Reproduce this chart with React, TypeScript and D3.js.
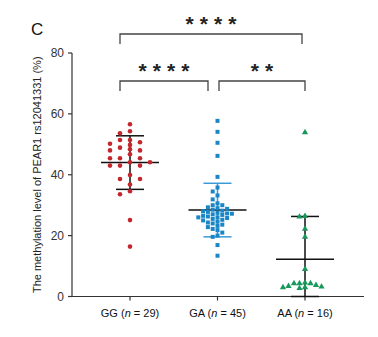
import React from "react";
import * as d3 from "d3";

const groups = ["GG", "GA", "AA"];
const groupN = [29, 45, 16];
const yTicks = [0, 20, 40, 60, 80];

const ggValues = [56.6, 54.3, 53.6, 51.4, 51.4, 50.7, 50.2, 49.8, 48.9, 48.4, 48.0, 48.0, 46.7, 45.4, 45.4, 45.4, 44.1, 44.1, 43.0, 43.0, 43.0, 39.9, 38.6, 38.6, 36.8, 34.6, 33.6, 25.1, 16.4];
const gaValues = [57.7, 54.1, 50.5, 46.2, 39.3, 35.8, 34.5, 33.2, 31.9, 30.6, 30.0, 30.0, 29.3, 29.0, 28.8, 28.5, 28.2, 28.0, 27.8, 27.5, 27.3, 27.2, 27.0, 26.8, 26.5, 26.3, 26.0, 26.0, 25.8, 25.5, 25.2, 25.0, 24.6, 24.3, 24.0, 23.6, 23.2, 22.8, 22.2, 21.8, 21.0, 20.0, 19.6, 16.9, 13.4];
const aaValues = [53.9, 26.4, 26.2, 22.2, 19.6, 9.0, 4.5, 4.3, 4.3, 4.3, 3.7, 3.4, 3.2, 3.0, 3.0, 2.7];

const means = [44.0, 28.4, 12.2];
const sds = [8.8, 8.8, 14.1];

const comparisons = [
  { from: "GG", to: "AA", stars: 4, level: 0 },
  { from: "GG", to: "GA", stars: 4, level: 1 },
  { from: "GA", to: "AA", stars: 2, level: 1 },
];

function swarm(values: number[], y: (v: number) => number, step: number, h: number) {
  const items = values.map((v, i) => ({ v, i, py: y(v) })).sort((a, b) => a.py - b.py);
  const placed: { off: number; py: number }[] = [];
  const out: number[] = new Array(values.length).fill(0);
  for (const it of items) {
    for (let k = 0; k < 60; k++) {
      const m = Math.ceil(k / 2);
      const off = k === 0 ? 0 : (k % 2 === 1 ? -m : m) * step;
      const hit = placed.some((p) => Math.abs(p.off - off) < step * 0.5 && Math.abs(p.py - it.py) < h);
      if (!hit) {
        placed.push({ off, py: it.py });
        out[it.i] = off;
        break;
      }
    }
  }
  return out;
}

export default function App() {
  const W = 378;
  const H = 337;
  const y = d3.scaleLinear().domain([0, 80]).range([296.5, 53]);
  const x = d3.scalePoint<string>().domain(groups).range([130, 305]);
  const axisX0 = 72;
  const axisX1 = 364;
  const font = "Liberation Sans, Arial, sans-serif";

  const ggOff = swarm(ggValues, y, 10, 4.2);
  const gaOff = swarm(gaValues, y, 4.8, 4.0);
  const aaOff = swarm(aaValues, y, 5.5, 4.5);

  const red = "#c4262e";
  const blue = "#1b86c6";
  const blueBar = "#3a9ad8";
  const green = "#17995b";

  const triPath = d3.symbol().type(d3.symbolTriangle).size(17)() as string;

  const bracketY = [34, 81];

  return (
    <svg width={W} height={H} style={{ position: "absolute", left: 0, top: 0, background: "#fff" }} fontFamily={font}>
      <rect x={0} y={0} width={W} height={H} fill="#fff" />
      <text x={31} y={34.5} fontSize={17} fill="#111">C</text>

      {/* y axis */}
      <line x1={axisX0} x2={axisX0} y1={y(80)} y2={y(0)} stroke="#333" strokeWidth={1.2} />
      {yTicks.map((t) => (
        <g key={t}>
          <line x1={axisX0 - 4} x2={axisX0} y1={y(t)} y2={y(t)} stroke="#333" strokeWidth={1.2} />
          <text x={axisX0 - 8} y={y(t) + 4.3} fontSize={12} textAnchor="end" fill="#333">{t}</text>
        </g>
      ))}
      <text transform={`translate(41,${(y(80) + y(0)) / 2}) rotate(-90)`} fontSize={11} textAnchor="middle" fill="#222">
        The methylation level of PEAR1 rs12041331 (%)
      </text>

      {/* x axis */}
      <line x1={axisX0} x2={axisX1} y1={y(0)} y2={y(0)} stroke="#333" strokeWidth={1.2} />
      {groups.map((g, i) => (
        <g key={g}>
          <line x1={x(g)} x2={x(g)} y1={y(0)} y2={y(0) + 4} stroke="#333" strokeWidth={1.2} />
          <text x={x(g)} y={317} fontSize={11} textAnchor="middle" fill="#111">
            {g} (<tspan fontStyle="italic">n</tspan> = {groupN[i]})
          </text>
        </g>
      ))}

      {/* brackets */}
      {comparisons.map((c, i) => {
        const by = bracketY[c.level];
        let x1: number, x2: number;
        if (c.level === 0) {
          x1 = (x(c.from) as number) - 10;
          x2 = (x(c.to) as number) - 3;
        } else if (c.from === "GG") {
          x1 = (x("GG") as number) - 10;
          x2 = (x("GA") as number) - 9.5;
        } else {
          x1 = (x("GA") as number) + 1.5;
          x2 = x("AA") as number;
        }
        const cx = (x1 + x2) / 2;
        const sy = by - 16;
        return (
          <g key={i}>
            <path d={`M${x1},${by + 10}V${by}H${x2}V${by + 10}`} fill="none" stroke="#444" strokeWidth={1.3} />
            {d3.range(c.stars).map((k) => (
              <text key={k} x={cx + (k - (c.stars - 1) / 2) * 14.3} y={sy + 12.5} fontSize={21} fontWeight="bold" textAnchor="middle" fill="#222">*</text>
            ))}
          </g>
        );
      })}

      {/* error bars */}
      {groups.map((g, i) => {
        const cx = x(g) as number;
        const col = g === "GA" ? blueBar : "#111";
        const lo = Math.max(0, means[i] - sds[i]);
        const hi = means[i] + sds[i];
        return (
          <g key={g}>
            <line x1={cx} x2={cx} y1={y(lo)} y2={y(hi)} stroke={col} strokeWidth={1.5} />
            <line x1={cx - 14} x2={cx + 14} y1={y(hi)} y2={y(hi)} stroke={col} strokeWidth={1.5} />
            <line x1={cx - 14} x2={cx + 14} y1={y(lo)} y2={y(lo)} stroke={col} strokeWidth={1.5} />
            <line x1={cx - 29} x2={cx + 29} y1={y(means[i])} y2={y(means[i])} stroke="#111" strokeWidth={1.5} />
          </g>
        );
      })}

      {/* points */}
      {ggValues.map((v, i) => (
        <circle key={"gg" + i} cx={(x("GG") as number) + ggOff[i]} cy={y(v)} r={2.3} fill={red} />
      ))}
      {gaValues.map((v, i) => (
        <rect key={"ga" + i} x={(x("GA") as number) + gaOff[i] - 2} y={y(v) - 2} width={4} height={4} fill={blue} />
      ))}
      {aaValues.map((v, i) => (
        <path key={"aa" + i} d={triPath} transform={`translate(${(x("AA") as number) + aaOff[i]},${y(v)})`} fill={green} />
      ))}
    </svg>
  );
}
